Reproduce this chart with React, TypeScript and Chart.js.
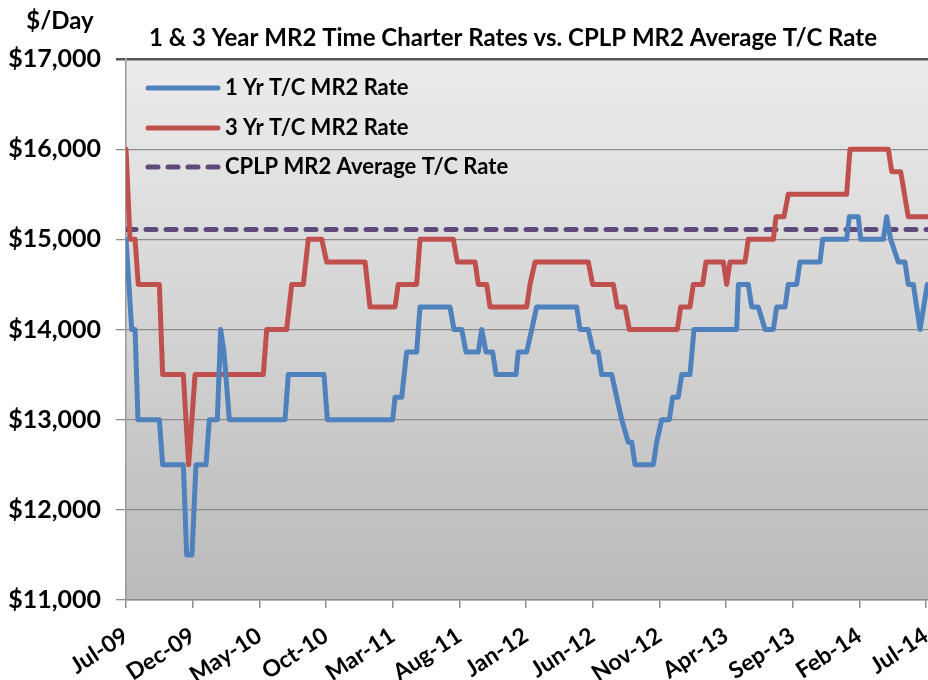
import React, { useEffect, useRef } from 'react';
import { Chart, registerables } from 'chart.js';

Chart.register(...registerables);

// Months since Jul-09 for axis ticks
const tickMonths = [0, 5, 10, 15, 20, 25, 30, 35, 40, 45, 50, 55, 60];
const tickLabels = ['Jul-09', 'Dec-09', 'May-10', 'Oct-10', 'Mar-11', 'Aug-11', 'Jan-12', 'Jun-12', 'Nov-12', 'Apr-13', 'Sep-13', 'Feb-14', 'Jul-14'];
const yTicks = [11000, 12000, 13000, 14000, 15000, 16000, 17000];

const titleText = '1 & 3 Year MR2 Time Charter Rates vs. CPLP MR2 Average T/C Rate';
const yUnitText = '$/Day';

// 1 Yr T/C MR2 Rate (months since Jul-09, $/day)
const oneYrMonths = [0, 0.43, 0.68, 0.9, 2.5, 2.75, 4.3, 4.55, 4.95, 5.25, 6.0, 6.25, 6.85, 7.1, 7.35, 7.75, 11.93, 12.17, 14.85, 15.1, 20.0, 20.18, 20.68, 21.05, 21.8, 22.05, 24.3, 24.6, 25.18, 25.5, 26.42, 26.68, 27.0, 27.5, 27.75, 29.25, 29.42, 30.05, 30.43, 30.8, 33.8, 34.05, 34.67, 35.05, 35.42, 35.68, 36.43, 36.8, 37.18, 37.67, 37.93, 38.18, 39.55, 39.8, 40.18, 40.75, 41.0, 41.42, 41.68, 42.3, 42.6, 45.8, 45.93, 46.67, 46.93, 47.42, 47.93, 48.55, 48.8, 49.43, 49.67, 50.3, 50.55, 52.05, 52.25, 54.05, 54.25, 54.92, 55.1, 56.8, 57.05, 57.35, 57.92, 58.42, 58.67, 59.05, 59.55, 60.1];
const oneYrRates = [15000, 14000, 14000, 13000, 13000, 12500, 12500, 11500, 11500, 12500, 12500, 13000, 13000, 14000, 13750, 13000, 13000, 13500, 13500, 13000, 13000, 13250, 13250, 13750, 13750, 14250, 14250, 14000, 14000, 13750, 13750, 14000, 13750, 13750, 13500, 13500, 13750, 13750, 14000, 14250, 14250, 14000, 14000, 13750, 13750, 13500, 13500, 13250, 13000, 12750, 12750, 12500, 12500, 12750, 13000, 13000, 13250, 13250, 13500, 13500, 14000, 14000, 14500, 14500, 14250, 14250, 14000, 14000, 14250, 14250, 14500, 14500, 14750, 14750, 15000, 15000, 15250, 15250, 15000, 15000, 15250, 15000, 14750, 14750, 14500, 14500, 14000, 14500];

// 3 Yr T/C MR2 Rate
const threeYrMonths = [0, 0.3, 0.68, 0.92, 2.5, 2.75, 4.3, 4.7, 5.18, 10.3, 10.55, 12.05, 12.43, 13.3, 13.67, 14.68, 15.05, 17.93, 18.3, 20.18, 20.42, 21.8, 22.05, 24.55, 24.85, 26.18, 26.42, 27.05, 27.3, 30.05, 30.3, 30.68, 34.67, 35.0, 36.55, 36.85, 37.43, 37.75, 41.35, 41.6, 42.3, 42.55, 43.25, 43.5, 44.8, 45.05, 45.3, 46.43, 46.67, 48.55, 48.75, 49.35, 49.67, 54.05, 54.3, 57.17, 57.43, 58.1, 58.67, 60.15];
const threeYrRates = [16000, 15000, 15000, 14500, 14500, 13500, 13500, 12500, 13500, 13500, 14000, 14000, 14500, 14500, 15000, 15000, 14750, 14750, 14250, 14250, 14500, 14500, 15000, 15000, 14750, 14750, 14500, 14500, 14250, 14250, 14500, 14750, 14750, 14500, 14500, 14250, 14250, 14000, 14000, 14250, 14250, 14500, 14500, 14750, 14750, 14500, 14750, 14750, 15000, 15000, 15250, 15250, 15500, 15500, 16000, 16000, 15750, 15750, 15250, 15250];

// CPLP MR2 Average T/C Rate
const avgMonths = [0, 60.15];
const avgRates = [15110, 15110];

const FONT = 'Lato, "DejaVu Sans", sans-serif';

const toPoints = (xs: number[], ys: number[]) => xs.map((x, i) => ({ x, y: ys[i] }));

const decorPlugin = {
  id: 'decor',
  beforeDraw(chart: any) {
    const { ctx, chartArea: a, width, height } = chart;
    ctx.save();
    ctx.fillStyle = '#ffffff';
    ctx.fillRect(0, 0, width, height);
    const g = ctx.createLinearGradient(0, a.top, 0, a.bottom);
    g.addColorStop(0, '#ececec');
    g.addColorStop(1, '#bababa');
    ctx.fillStyle = g;
    ctx.fillRect(a.left, a.top, a.right - a.left, a.bottom - a.top);
    ctx.restore();
  },
  afterDraw(chart: any) {
    const { ctx, chartArea: a } = chart;
    ctx.save();
    ctx.fillStyle = '#000000';
    ctx.textBaseline = 'middle';
    ctx.textAlign = 'center';
    ctx.font = `bold 24px ${FONT}`;
    ctx.fillText(titleText, 513, 38);
    ctx.font = `bold 24px ${FONT}`;
    ctx.textAlign = 'center';
    ctx.fillText(yUnitText, 60, 21);
    // legend
    const rowsY = [88, 128, 167];
    chart.data.datasets.forEach((ds: any, i: number) => {
      const y = rowsY[i];
      ctx.beginPath();
      ctx.strokeStyle = ds.borderColor;
      ctx.lineWidth = ds.borderWidth;
      ctx.lineCap = 'round';
      ctx.setLineDash(ds.borderDash || []);
      ctx.moveTo(a.left + 22, y);
      ctx.lineTo(a.left + 92, y);
      ctx.stroke();
      ctx.setLineDash([]);
      ctx.fillStyle = '#000000';
      ctx.textAlign = 'left';
      ctx.font = `bold 22px ${FONT}`;
      ctx.fillText(ds.label, a.left + 99, y);
    });
    ctx.restore();
  },
};

export default function App() {
  const ref = useRef<HTMLCanvasElement | null>(null);
  useEffect(() => {
    if (!ref.current) return;
    const chart = new Chart(ref.current, {
      type: 'line',
      data: {
        datasets: [
          {
            label: '1 Yr T/C MR2 Rate',
            data: toPoints(oneYrMonths, oneYrRates),
            borderColor: '#4f81bd',
            borderWidth: 5,
            pointRadius: 0,
            tension: 0,
            borderJoinStyle: 'round',
            borderCapStyle: 'round',
          },
          {
            label: '3 Yr T/C MR2 Rate',
            data: toPoints(threeYrMonths, threeYrRates),
            borderColor: '#c0504d',
            borderWidth: 5,
            pointRadius: 0,
            tension: 0,
            borderJoinStyle: 'round',
            borderCapStyle: 'round',
          },
          {
            label: 'CPLP MR2 Average T/C Rate',
            data: toPoints(avgMonths, avgRates),
            borderColor: '#604a7b',
            borderWidth: 5,
            borderDash: [10, 10],
            pointRadius: 0,
            tension: 0,
            borderCapStyle: 'round',
          },
        ],
      },
      options: {
        animation: false,
        responsive: false,
        devicePixelRatio: 1,
        layout: { padding: { left: 0, top: 59, right: 0, bottom: 0 } },
        plugins: { legend: { display: false }, title: { display: false }, tooltip: { enabled: false } },
        scales: {
          x: {
            type: 'linear',
            min: 0,
            max: 60.15,
            afterBuildTicks: (scale: any) => {
              scale.ticks = tickMonths.map((v) => ({ value: v }));
            },
            afterFit: (scale: any) => {
              scale.height = 80;
              scale.paddingLeft = 0;
              scale.paddingRight = 0;
            },
            ticks: {
              autoSkip: false,
              maxRotation: 33,
              minRotation: 33,
              padding: 14,
              color: '#000000',
              font: { family: FONT, size: 23, weight: 'bold' },
              callback: (v: any) => tickLabels[tickMonths.indexOf(Number(v))] ?? '',
            },
            grid: { display: true, drawOnChartArea: false, drawTicks: true, tickLength: 8, color: '#8c8c8c', lineWidth: 1.5 },
            border: { display: true, color: '#8c8c8c', width: 1.5 },
          },
          y: {
            type: 'linear',
            min: 11000,
            max: 17000,
            afterBuildTicks: (scale: any) => {
              scale.ticks = yTicks.map((v) => ({ value: v }));
            },
            afterFit: (scale: any) => {
              scale.width = 126;
              scale.paddingTop = 0;
              scale.paddingBottom = 0;
            },
            ticks: {
              padding: 15,
              color: '#000000',
              font: { family: FONT, size: 25, weight: 'bold' },
              callback: (v: any) => '$' + Number(v).toLocaleString('en-US'),
            },
            grid: {
              drawTicks: true,
              tickLength: 10,
              color: (c: any) => (c.tick && c.tick.value === 17000 ? '#555555' : '#8c8c8c'),
              lineWidth: (c: any) => (c.tick && c.tick.value === 17000 ? 2.5 : 1.3),
            },
            border: { display: true, color: '#9a9a9a', width: 1.5 },
          },
        },
      },
      plugins: [decorPlugin],
    } as any);
    return () => chart.destroy();
  }, []);
  return (
    <div style={{ position: 'absolute', left: 0, top: 0, width: 928, height: 680 }}>
      <canvas ref={ref} width={928} height={680} style={{ display: 'block' }} />
    </div>
  );
}
